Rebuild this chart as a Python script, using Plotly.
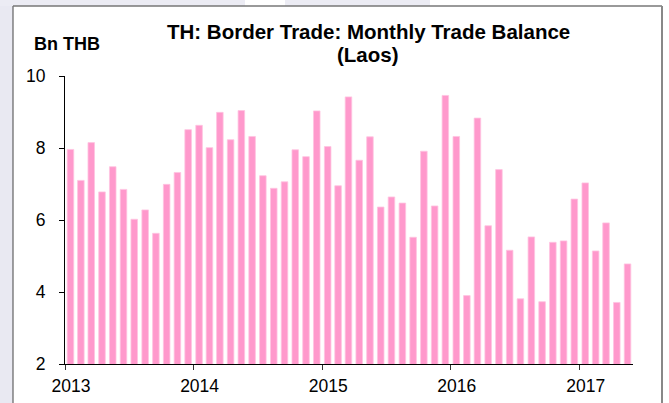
import plotly.graph_objects as go
import pandas as pd

# Data: monthly trade balance with Laos, Bn THB (Jan 2013 - May 2017)
start_month = "2013-01-01"
values_2013 = [7.96, 7.10, 8.15, 6.78, 7.48, 6.85, 6.02, 6.28, 5.63, 6.99, 7.32, 8.51]
values_2014 = [8.63, 8.01, 8.99, 8.23, 9.04, 8.32, 7.23, 6.88, 7.06, 7.95, 7.76, 9.03]
values_2015 = [8.04, 6.95, 9.42, 7.66, 8.31, 6.36, 6.64, 6.47, 5.52, 7.91, 6.39, 9.46]
values_2016 = [8.32, 3.90, 8.83, 5.84, 7.40, 5.16, 3.81, 5.53, 3.73, 5.38, 5.42, 6.58]
values_2017 = [7.03, 5.14, 5.92, 3.71, 4.78]
values = values_2013 + values_2014 + values_2015 + values_2016 + values_2017
months = pd.date_range(start_month, periods=len(values), freq="MS")
y_ticks = [2, 4, 6, 8, 10]

title_line1 = "TH: Border Trade: Monthly Trade Balance"
title_line2 = "(Laos)"
y_unit = "Bn THB"

W, H = 669, 403
L, R, T, B = 65, 633, 76, 364


def px(x):
    return (x - L) / (R - L)


def py(y):
    return (B - y) / (B - T)


fig = go.Figure()
fig.add_trace(go.Bar(
    x=months, y=values,
    xperiod="M1", xperiodalignment="middle",
    marker=dict(color="#FF99CC", line=dict(color="#FFC4E1", width=0.8)),
    hoverinfo="x+y",
))

font_family = "Liberation Sans, Arial, sans-serif"
fig.update_layout(
    width=W, height=H,
    margin=dict(l=L, r=W - R, t=T, b=H - B),
    paper_bgcolor="white", plot_bgcolor="white",
    showlegend=False, bargap=0.37,
    font=dict(family=font_family, size=17, color="black"),
    xaxis=dict(
        type="date", range=["2013-01-01", "2017-06-01"],
        tickvals=pd.date_range("2013-01-01", "2017-01-01", freq="YS"),
        tickformat="%Y", ticks="outside", ticklen=5, tickcolor="#333",
        showline=True, linecolor="black", linewidth=1,
        showgrid=False, zeroline=False, automargin=False,
        tickfont=dict(size=17.5), ticklabelshift=6, ticklabelstandoff=1,
    ),
    yaxis=dict(
        range=[2, 10], tickvals=y_ticks, ticks="outside", ticklen=5,
        tickcolor="black", showline=True, linecolor="black", linewidth=1,
        showgrid=False, zeroline=False, tickfont=dict(size=17.5),
        ticklabelstandoff=10, automargin=False,
    ),
    shapes=[
        # faint lavender background outside the frame
        dict(type="rect", xref="paper", yref="paper",
             x0=px(0), x1=px(13), y0=py(H), y1=py(0),
             fillcolor="#E9E9F2", line=dict(width=0), layer="below"),
        dict(type="rect", xref="paper", yref="paper",
             x0=px(0), x1=px(245), y0=py(6), y1=py(0),
             fillcolor="#ECECF4", line=dict(width=0), layer="below"),
        dict(type="rect", xref="paper", yref="paper",
             x0=px(285), x1=px(430), y0=py(6), y1=py(0),
             fillcolor="#ECECF4", line=dict(width=0), layer="below"),
        # frame lines
        dict(type="line", xref="paper", yref="paper",
             x0=px(13), x1=px(13), y0=py(6), y1=py(H),
             line=dict(color="#444", width=1)),
        dict(type="line", xref="paper", yref="paper",
             x0=px(13), x1=px(662), y0=py(6), y1=py(6),
             line=dict(color="#777", width=1.5)),
        dict(type="line", xref="paper", yref="paper",
             x0=px(662), x1=px(662), y0=py(6), y1=py(H),
             line=dict(color="#888", width=2)),
    ],
    annotations=[
        dict(text="<b>" + title_line1 + "</b>", xref="paper", yref="paper",
             x=px(368), y=py(31), xanchor="center", yanchor="middle",
             showarrow=False, font=dict(size=20.5)),
        dict(text="<b>" + title_line2 + "</b>", xref="paper", yref="paper",
             x=px(368), y=py(54), xanchor="center", yanchor="middle",
             showarrow=False, font=dict(size=20.5)),
        dict(text="<b>" + y_unit + "</b>", xref="paper", yref="paper",
             x=px(32), y=py(44), xanchor="left", yanchor="middle",
             showarrow=False, font=dict(size=18)),
    ],
)

fig.write_html(
    "out.html",
    config={"displayModeBar": False},
    post_script="document.body.style.margin='0';document.body.style.padding='0';",
)
